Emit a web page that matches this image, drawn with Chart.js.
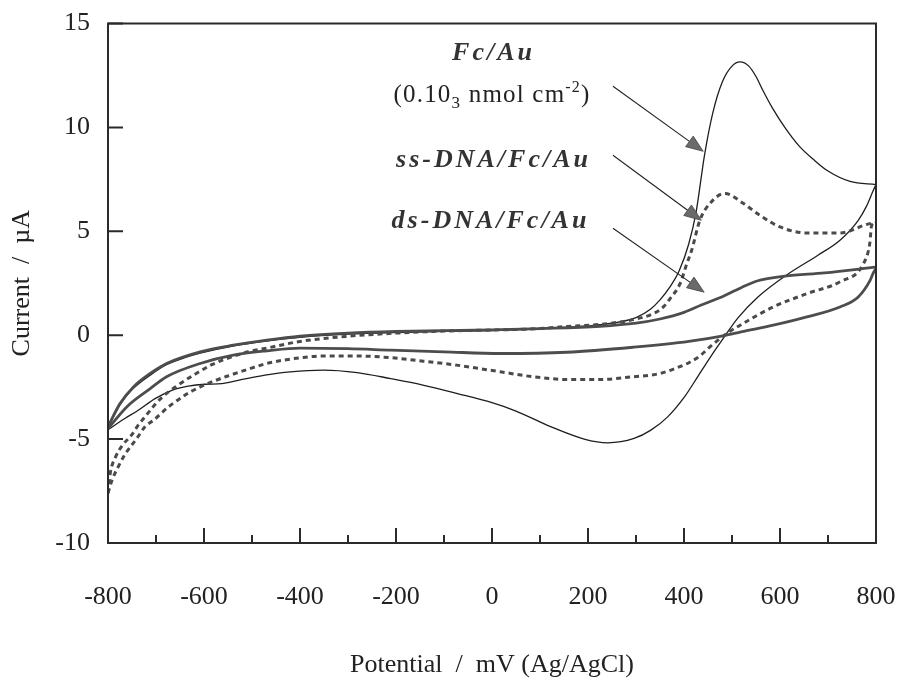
<!DOCTYPE html>
<html><head><meta charset="utf-8">
<script src="https://cdn.jsdelivr.net/npm/chart.js@4.4.1/dist/chart.umd.min.js"></script>
<style>html,body{margin:0;padding:0;background:#fff;}canvas{display:block;}</style>
</head><body>
<canvas id="c" width="898" height="679"></canvas>
<script>
// ---- tick values ----
const xTicks = [-800, -600, -400, -200, 0, 200, 400, 600, 800];
const xMinorTicks = [-700, -500, -300, -100, 100, 300, 500, 700];
const yTicks = [-10, -5, 0, 5, 10, 15];

// ---- Fc/Au (thin solid) : potential (mV), current (µA) ----
const fcForwardV = [-800,-775,-750,-712,-678,-640,-608,-540,-470,-400,-300,-200,-100,0,100,200,250,300,330,350,370,390,410,425,443,460,480,500,517,535,550,565,585,610,640,670,700,746,800];
const fcForwardI = [-4.45,-3.35,-2.62,-1.92,-1.42,-1.08,-0.86,-0.52,-0.28,-0.1,0.05,0.13,0.18,0.22,0.3,0.45,0.58,0.85,1.25,1.7,2.3,3.1,4.4,5.9,8.7,10.7,12.2,12.95,13.15,12.95,12.45,11.75,10.9,10.0,9.1,8.45,7.9,7.4,7.25];
const fcReverseV = [-800,-765,-737,-702,-667,-633,-598,-563,-529,-473,-420,-351,-281,-211,-142,-72,0,50,122,192,241,296,331,366,401,429,455,484,512,554,610,679,725,763,780,794,800];
const fcReverseI = [-4.55,-4.01,-3.61,-3.05,-2.65,-2.45,-2.36,-2.33,-2.17,-1.92,-1.76,-1.68,-1.8,-2.09,-2.41,-2.81,-3.25,-3.65,-4.4,-5.0,-5.18,-4.97,-4.57,-3.93,-2.97,-1.98,-1.05,-0.08,0.82,1.84,2.84,3.85,4.57,5.53,6.2,6.95,7.25];

// ---- ss-DNA/Fc/Au (dotted) ----
const ssForwardV = [-800,-795,-785,-770,-751,-737,-723,-709,-688,-657,-619,-584,-542,-508,-469,-400,-300,-200,-100,0,100,156,225,294,336,357,371,392,406,416,433,454,485,524,558,600,656,725,787,800];
const ssForwardI = [-7.6,-6.6,-5.9,-5.3,-4.81,-4.33,-3.93,-3.53,-3.0,-2.45,-1.88,-1.42,-1.04,-0.8,-0.62,-0.3,-0.05,0.1,0.2,0.25,0.32,0.42,0.52,0.75,1.04,1.36,1.76,2.49,3.45,4.09,5.53,6.34,6.82,6.34,5.77,5.21,4.92,4.92,5.37,5.4];
const ssReverseV = [-800,-792,-778,-765,-751,-740,-723,-705,-674,-640,-622,-584,-545,-510,-469,-434,-400,-351,-282,-212,-143,-74,17,86,156,225,294,350,399,412,433,454,489,517,586,656,725,774,787,791,800];
const ssReverseI = [-7.6,-7.0,-6.3,-5.75,-5.3,-4.97,-4.41,-4.09,-3.45,-2.89,-2.65,-2.25,-1.92,-1.65,-1.36,-1.2,-1.09,-1.0,-1.0,-1.08,-1.25,-1.44,-1.76,-2.0,-2.13,-2.13,-2.0,-1.84,-1.44,-1.3,-1.0,-0.56,0.08,0.48,1.36,2.0,2.57,3.45,4.41,5.29,5.4];

// ---- ds-DNA/Fc/Au (thick solid) ----
const dsForwardV = [-800,-775,-747,-712,-678,-608,-539,-469,-400,-300,-200,-100,0,100,225,300,350,400,436,484,520,554,610,693,800];
const dsForwardI = [-4.4,-3.29,-2.49,-1.84,-1.36,-0.8,-0.48,-0.24,-0.05,0.1,0.18,0.22,0.26,0.32,0.43,0.58,0.78,1.1,1.45,1.9,2.3,2.62,2.84,3.0,3.28];
const dsReverseV = [-800,-761,-712,-678,-608,-539,-469,-400,-300,-211,-100,18,156,294,410,484,519,586,656,725,763,788,794,800];
const dsReverseI = [-4.5,-3.45,-2.57,-2.0,-1.36,-0.96,-0.75,-0.62,-0.65,-0.72,-0.8,-0.88,-0.82,-0.58,-0.3,-0.02,0.16,0.48,0.88,1.36,1.84,2.65,2.98,3.2];

// ---- annotation labels ----
const noteLabels = ['Fc/Au', 'ss-DNA/Fc/Au', 'ds-DNA/Fc/Au'];

const pts = (v, i) => v.map((xv, k) => ({x: xv, y: i[k]}));

const fcStyle = {borderColor: '#1e1e1e', borderWidth: 1.3};
const ssStyle = {borderColor: '#4a4a4a', borderWidth: 3, borderDash: [5, 4], borderCapStyle: 'butt'};
const dsStyle = {borderColor: '#4d4d4d', borderWidth: 2.8};

const SERIF = '"Liberation Serif", "Times New Roman", serif';

function drawArrow(ctx, x0, y0, x1, y1) {
  ctx.save();
  ctx.strokeStyle = '#222';
  ctx.lineWidth = 1.1;
  const ang = Math.atan2(y1 - y0, x1 - x0);
  const L = 17, W = 6.5;
  const bx = x1 - L * Math.cos(ang), by = y1 - L * Math.sin(ang);
  ctx.beginPath(); ctx.moveTo(x0, y0); ctx.lineTo(bx, by); ctx.stroke();
  ctx.beginPath();
  ctx.moveTo(x1, y1);
  ctx.lineTo(bx + W * Math.sin(ang), by - W * Math.cos(ang));
  ctx.lineTo(bx - W * Math.sin(ang), by + W * Math.cos(ang));
  ctx.closePath();
  ctx.fillStyle = '#6a6a6a';
  ctx.fill();
  ctx.strokeStyle = '#444';
  ctx.lineWidth = 0.8;
  ctx.stroke();
  ctx.restore();
}

function spacedText(ctx, text, cx, by, spacing) {
  let w = 0;
  const ws = [...text].map(ch => ctx.measureText(ch).width);
  ws.forEach(v => w += v);
  w += spacing * (ws.length - 1);
  let x = cx - w / 2;
  [...text].forEach((ch, k) => { ctx.fillText(ch, x, by); x += ws[k] + spacing; });
}

const framePlugin = {
  id: 'framePlugin',
  afterDraw(chart) {
    const {ctx, chartArea: a, scales: {x, y}} = chart;
    ctx.save();
    ctx.strokeStyle = '#2a2a2a';
    ctx.lineWidth = 2;
    ctx.strokeRect(a.left, a.top, a.right - a.left, a.bottom - a.top);
    ctx.beginPath();
    yTicks.forEach(v => { const py = y.getPixelForValue(v); ctx.moveTo(a.left, py); ctx.lineTo(a.left + 15, py); });
    xTicks.forEach(v => { const px = x.getPixelForValue(v); ctx.moveTo(px, a.bottom); ctx.lineTo(px, a.bottom - 15); });
    xMinorTicks.forEach(v => { const px = x.getPixelForValue(v); ctx.moveTo(px, a.bottom); ctx.lineTo(px, a.bottom - 8); });
    ctx.stroke();

    // annotations
    ctx.fillStyle = '#333';
    ctx.textBaseline = 'alphabetic';
    ctx.textAlign = 'left';
    const cx = x.getPixelForValue(0);
    ctx.font = 'italic bold 26px ' + SERIF;
    spacedText(ctx, noteLabels[0], cx, y.getPixelForValue(13.23), 3);
    spacedText(ctx, noteLabels[1], cx, y.getPixelForValue(8.08), 3);
    spacedText(ctx, noteLabels[2], cx - 3, y.getPixelForValue(5.15), 3);

    // (0.10_3 nmol cm^-2)
    ctx.fillStyle = '#222';
    const base = y.getPixelForValue(11.2);
    const parts = [
      {t: '(0.10', f: '25px ' + SERIF, dy: 0},
      {t: '3', f: '17px ' + SERIF, dy: 6},
      {t: ' nmol cm', f: '25px ' + SERIF, dy: 0},
      {t: '-2', f: '16px ' + SERIF, dy: -10},
      {t: ')', f: '25px ' + SERIF, dy: 0}
    ];
    const sp = 1.2;
    let tw = 0;
    parts.forEach(p => { ctx.font = p.f; p.w = ctx.measureText(p.t).width + sp * p.t.length; tw += p.w; });
    let px0 = cx - tw / 2;
    parts.forEach(p => {
      ctx.font = p.f;
      let xx = px0;
      [...p.t].forEach(ch => { ctx.fillText(ch, xx, base + p.dy); xx += ctx.measureText(ch).width + sp; });
      px0 += p.w;
    });

    drawArrow(ctx, x.getPixelForValue(252), y.getPixelForValue(11.98), x.getPixelForValue(440), y.getPixelForValue(8.85));
    drawArrow(ctx, x.getPixelForValue(252), y.getPixelForValue(8.66), x.getPixelForValue(436), y.getPixelForValue(5.53));
    drawArrow(ctx, x.getPixelForValue(252), y.getPixelForValue(5.15), x.getPixelForValue(442), y.getPixelForValue(2.07));
    ctx.restore();
  }
};

new Chart(document.getElementById('c'), {
  type: 'scatter',
  data: {
    datasets: [
      Object.assign({label: 'ds-DNA/Fc/Au forward', data: pts(dsForwardV, dsForwardI)}, dsStyle),
      Object.assign({label: 'ds-DNA/Fc/Au reverse', data: pts(dsReverseV, dsReverseI)}, dsStyle),
      Object.assign({label: 'ss-DNA/Fc/Au forward', data: pts(ssForwardV, ssForwardI)}, ssStyle),
      Object.assign({label: 'ss-DNA/Fc/Au reverse', data: pts(ssReverseV, ssReverseI)}, ssStyle),
      Object.assign({label: 'Fc/Au forward', data: pts(fcForwardV, fcForwardI)}, fcStyle),
      Object.assign({label: 'Fc/Au reverse', data: pts(fcReverseV, fcReverseI)}, fcStyle)
    ]
  },
  options: {
    responsive: false,
    animation: false,
    showLine: true,
    elements: {point: {radius: 0}, line: {cubicInterpolationMode: 'monotone', fill: false}},
    layout: {padding: {top: 23.5, right: 22, left: 0, bottom: 0}},
    plugins: {legend: {display: false}, tooltip: {enabled: false}},
    scales: {
      x: {
        type: 'linear', position: 'bottom', min: -800, max: 800,
        afterBuildTicks: s => { s.ticks = xTicks.map(v => ({value: v})); },
        ticks: {font: {family: SERIF, size: 26}, color: '#222', padding: 0},
        grid: {display: false, drawTicks: true, tickLength: 39},
        border: {display: false},
        title: {display: true, text: 'Potential  /  mV (Ag/AgCl)', font: {family: SERIF, size: 26}, color: '#222', padding: {top: 0, bottom: -2}},
        afterFit: s => { s.height = 136; }
      },
      y: {
        type: 'linear', position: 'left', min: -10, max: 15,
        afterBuildTicks: s => { s.ticks = yTicks.map(v => ({value: v})); },
        ticks: {font: {family: SERIF, size: 26}, color: '#222', padding: 0},
        grid: {display: false, drawTicks: true, tickLength: 18},
        border: {display: false},
        title: {display: true, text: 'Current  /  µA', font: {family: SERIF, size: 26}, color: '#222', padding: {top: 7, bottom: 0}},
        afterFit: s => { s.width = 108; }
      }
    }
  },
  plugins: [framePlugin]
});
</script>
</body></html>
